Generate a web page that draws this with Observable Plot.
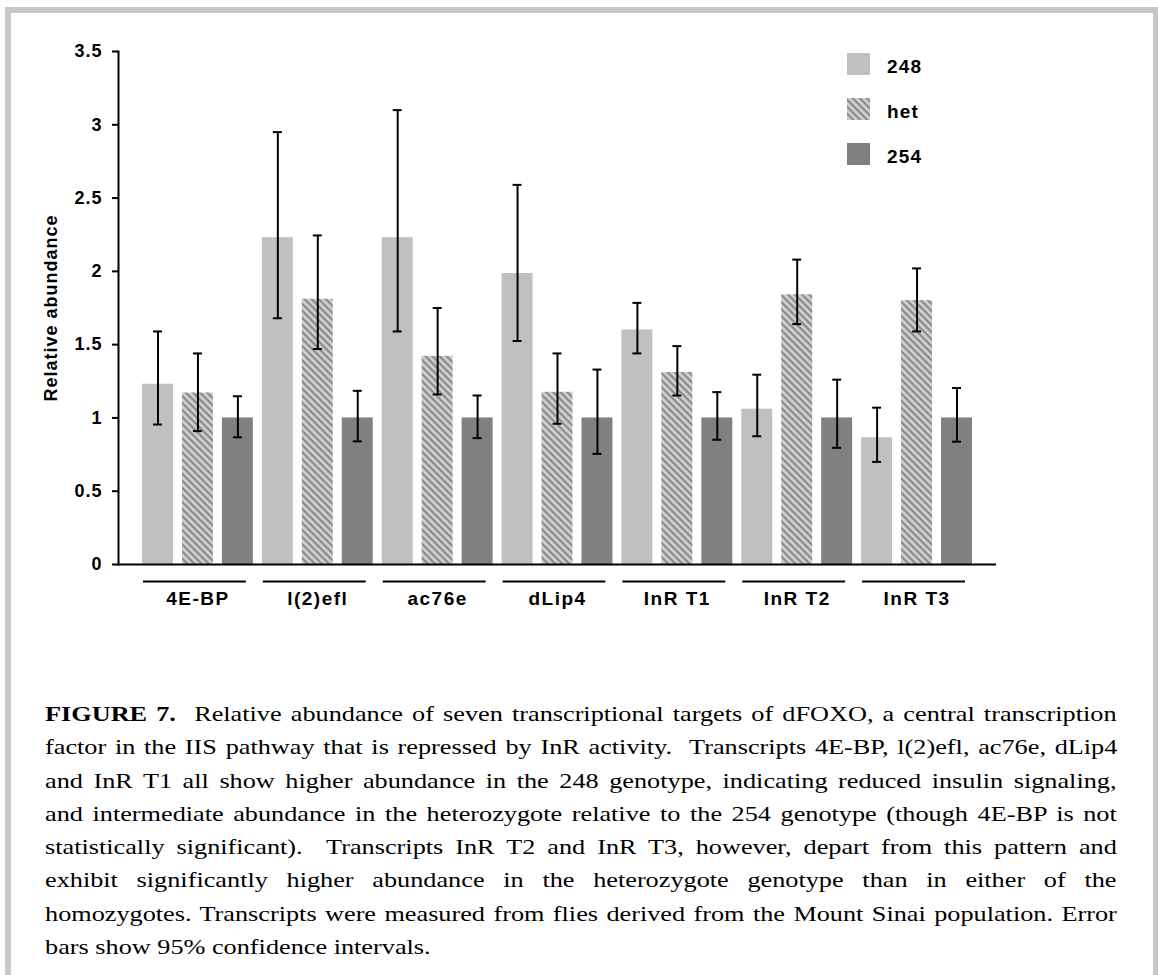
<!DOCTYPE html>
<html>
<head>
<meta charset="utf-8">
<script src="https://cdn.jsdelivr.net/npm/d3@7"></script>
<script src="https://cdn.jsdelivr.net/npm/@observablehq/plot@0.6"></script>
<style>
html, body { margin: 0; padding: 0; background: #fff; }
body { width: 1158px; height: 975px; overflow: hidden; position: relative; }
#chart { position: absolute; left: 0; top: 0; }
#chart svg text { letter-spacing: 1px; }
#chart svg g[aria-label="x-axis tick label"] text { letter-spacing: 1.5px; }
#border { position: absolute; left: 5px; top: 7px; width: 1154px; height: 1000px; box-sizing: border-box;
  border: 6px solid #c8c8c8; border-bottom: none; pointer-events: none; }
#legend { position: absolute; left: 847px; top: 53px; font: bold 19px "Liberation Sans", Arial, sans-serif; letter-spacing: 1.2px; color: #000; }
.item { position: absolute; left: 0; width: 120px; height: 22px; }
.sw { position: absolute; left: 0; top: 0; width: 23px; height: 22px; display: block; }
.lab { position: absolute; left: 40px; top: 3px; line-height: 22px; white-space: nowrap; }
#caption { position: absolute; left: 45px; top: 698px; font-family: "Liberation Serif", "Times New Roman", serif;
  font-size: 21px; line-height: 33.3px; color: #000; transform-origin: 0 0; }
#caption .line { white-space: nowrap; }
</style>
</head>
<body>
<svg width="0" height="0" style="position:absolute">
  <defs>
    <pattern id="hatch" patternUnits="userSpaceOnUse" width="5" height="5" patternTransform="rotate(45)">
      <rect width="5" height="5" fill="#d0d0d0"></rect>
      <rect width="5" height="2.2" fill="#8a8a8a"></rect>
    </pattern>
  </defs>
</svg>
<div id="chart"></div>
<div id="legend"></div>
<div id="caption"></div>
<div id="border"></div>
<script>
// ---- data ----
const genes = ["4E-BP", "l(2)efl", "ac76e", "dLip4", "InR T1", "InR T2", "InR T3"];
const genotypes = ["248", "het", "254"];
const fills = ["#c0c0c0", "url(#hatch)", "#808080"];

const mean248 = [1.23, 2.23, 2.23, 1.985, 1.60, 1.06, 0.865];
const meanHet = [1.17, 1.81, 1.42, 1.175, 1.31, 1.84, 1.80];
const mean254 = [1.00, 1.00, 1.00, 1.00, 1.00, 1.00, 1.00];

const lo248 = [0.955, 1.68, 1.59, 1.525, 1.44, 0.875, 0.70];
const hi248 = [1.59, 2.95, 3.10, 2.59, 1.785, 1.295, 1.07];
const loHet = [0.91, 1.47, 1.16, 0.96, 1.153, 1.64, 1.59];
const hiHet = [1.44, 2.245, 1.75, 1.44, 1.49, 2.08, 2.02];
const lo254 = [0.868, 0.84, 0.862, 0.755, 0.851, 0.796, 0.838];
const hi254 = [1.148, 1.185, 1.153, 1.33, 1.176, 1.261, 1.204];

const yTicks = [0, 0.5, 1, 1.5, 2, 2.5, 3, 3.5];
const yLabel = "Relative abundance";

const captionLines = [
  ["FIGURE 7.", "\u00a0 Relative abundance of seven transcriptional targets of dFOXO, a central transcription"],
  ["", "factor in the IIS pathway that is repressed by InR activity.\u00a0 Transcripts 4E-BP, l(2)efl, ac76e, dLip4"],
  ["", "and InR T1 all show higher abundance in the 248 genotype, indicating reduced insulin signaling,"],
  ["", "and intermediate abundance in the heterozygote relative to the 254 genotype (though 4E-BP is not"],
  ["", "statistically significant).\u00a0 Transcripts InR T2 and InR T3, however, depart from this pattern and"],
  ["", "exhibit significantly higher abundance in the heterozygote genotype than in either of the"],
  ["", "homozygotes. Transcripts were measured from flies derived from the Mount Sinai population. Error"],
  ["", "bars show 95% confidence intervals."]
];

// ---- table ----
const key = (g, k) => g + "|" + k;
const means = [mean248, meanHet, mean254];
const los = [lo248, loHet, lo254];
const his = [hi248, hiHet, hi254];
const data = [];
genes.forEach((g, i) => genotypes.forEach((k, j) => {
  data.push({key: key(g, k), gene: g, genotype: k, value: means[j][i], lo: los[j][i], hi: his[j][i]});
}));
const xDomain = data.map(d => d.key);

const chart = Plot.plot({
  width: 1158,
  height: 620,
  marginLeft: 118,
  marginRight: 162,
  marginTop: 51,
  marginBottom: 56,
  style: {fontFamily: '"Liberation Sans", Arial, sans-serif', fontSize: "18px", fontWeight: "bold", background: "transparent", color: "#000", overflow: "visible"},
  x: {domain: xDomain, paddingInner: 0.225, paddingOuter: 0.601, round: false, axis: null},
  y: {domain: [0, 3.5], axis: null},
  color: {domain: genotypes, range: fills},
  marks: [
    Plot.barY(data, {x: "key", y: "value", fill: "genotype"}),
    Plot.ruleX(data, {x: "key", y1: "lo", y2: "hi", stroke: "#000", strokeWidth: 2}),
    Plot.tickY(data, {x: "key", y: "hi", stroke: "#000", strokeWidth: 2, insetLeft: 11, insetRight: 11}),
    Plot.tickY(data, {x: "key", y: "lo", stroke: "#000", strokeWidth: 2, insetLeft: 11, insetRight: 11}),
    // group underlines beneath the axis
    Plot.ruleY(genes, {x1: g => key(g, genotypes[0]), x2: g => key(g, genotypes[2]), y: () => 0, dy: 17,
      insetLeft: 1, insetRight: 7, stroke: "#000", strokeWidth: 2}),
    // group labels centred on each middle bar
    Plot.axisX({ticks: genes.map(g => key(g, genotypes[1])), tickFormat: k => k.split("|")[0],
      tickSize: 0, tickPadding: 27, fontSize: 19, label: null}),
    Plot.axisY({ticks: yTicks, tickSize: 6, tickPadding: 10, strokeWidth: 2, fontSize: 18,
      tickFormat: d => String(d), label: yLabel, labelAnchor: "center", labelArrow: "none", labelOffset: 74}),
    Plot.ruleY([0], {stroke: "#000", strokeWidth: 2}),
    Plot.frame({anchor: "left", stroke: "#000", strokeWidth: 2})
  ]
});
document.getElementById("chart").appendChild(chart);

// ---- legend ----
const legend = document.getElementById("legend");
genotypes.forEach((k, j) => {
  const item = document.createElement("div");
  item.className = "item";
  item.style.top = (j * 45) + "px";
  item.innerHTML = `<svg class="sw" width="23" height="22"><rect width="23" height="22" fill="${fills[j]}"></rect></svg><span class="lab">${k}</span>`;
  legend.appendChild(item);
});

// ---- caption (justified, horizontally stretched like the source) ----
const cap = document.getElementById("caption");
const stretch = 1.25;
const target = 1072 / stretch;
cap.style.transform = `scaleX(${stretch})`;
captionLines.forEach(([bold, rest], i) => {
  const d = document.createElement("div");
  d.className = "line";
  const s = document.createElement("span");
  if (bold) { const b = document.createElement("b"); b.textContent = bold; s.appendChild(b); }
  s.appendChild(document.createTextNode(rest));
  d.appendChild(s);
  cap.appendChild(d);
  if (i < captionLines.length - 1) {
    const w = s.offsetWidth;
    const n = ((bold + rest).match(/[ \u00a0]/g) || []).length;
    s.style.wordSpacing = ((target - w) / n) + "px";
  }
});
</script>
</body>
</html>
